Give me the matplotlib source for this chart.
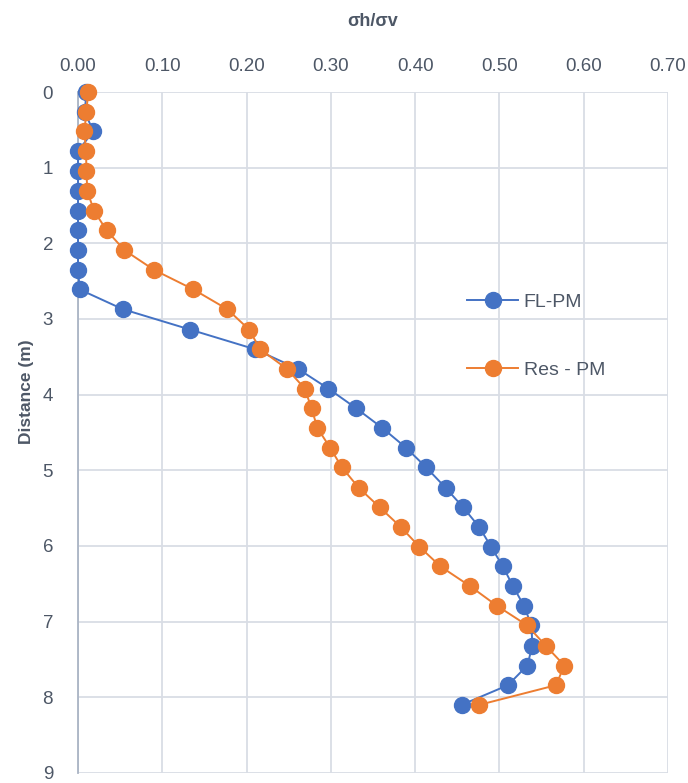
import matplotlib.pyplot as plt

# depth below surface (m)
depth = [0.00, 0.26, 0.52, 0.78, 1.05, 1.31, 1.57, 1.83, 2.09, 2.35, 2.61, 2.87,
         3.14, 3.40, 3.66, 3.92, 4.18, 4.44, 4.70, 4.96, 5.23, 5.49, 5.75, 6.01,
         6.27, 6.53, 6.79, 7.05, 7.32, 7.58, 7.84, 8.10]

fl_pm = [0.010, 0.008, 0.018, 0.000, 0.000, 0.000, 0.000, 0.000, 0.000, 0.000, 0.002, 0.053,
         0.133, 0.210, 0.261, 0.297, 0.330, 0.361, 0.389, 0.413, 0.436, 0.457, 0.476, 0.490,
         0.504, 0.516, 0.529, 0.538, 0.539, 0.533, 0.510, 0.455]

res_pm = [0.012, 0.010, 0.0075, 0.0095, 0.010, 0.011, 0.019, 0.034, 0.055, 0.090, 0.137, 0.177,
          0.203, 0.216, 0.248, 0.269, 0.277, 0.284, 0.299, 0.313, 0.333, 0.358, 0.383, 0.405,
          0.430, 0.465, 0.497, 0.533, 0.555, 0.577, 0.567, 0.476]

xticks = [0.0, 0.1, 0.2, 0.3, 0.4, 0.5, 0.6, 0.7]
yticks = list(range(10))

plt.rcParams['font.family'] = ['Liberation Sans Narrow', 'Liberation Sans', 'DejaVu Sans']
txt = '#4d5766'

fig = plt.figure(figsize=(6.88, 7.83), dpi=100)
ax = fig.add_axes([0.1134, 0.0128, 0.8576, 0.8697])

ax.plot(fl_pm, depth, color='#4472C4', lw=1.4, marker='o', ms=11.5,
        markeredgecolor='#4472C4', label='FL-PM', clip_on=False, zorder=3)
ax.plot(res_pm, depth, color='#ED7D31', lw=1.4, marker='o', ms=11.5,
        markeredgecolor='#ED7D31', label='Res - PM', clip_on=False, zorder=4)

ax.set_xlim(0, 0.7)
ax.set_ylim(9, 0)
ax.set_xticks(xticks)
ax.set_xticklabels(['%.2f' % v for v in xticks])
ax.set_yticks(yticks)
ax.xaxis.tick_top()
ax.tick_params(axis='both', length=0, labelsize=13.5, labelcolor=txt)
ax.tick_params(axis='x', pad=12)
ax.tick_params(axis='y', pad=18)
ax.grid(True, color='#d9dde5', lw=1.3)
ax.set_axisbelow(True)
for s in ['top', 'right', 'bottom']:
    ax.spines[s].set_visible(False)
ax.spines['left'].set_color('#aab4c4')
ax.spines['left'].set_linewidth(1.3)

fig.text(0.542, 0.972, 'σh/σv', ha='center', va='center', fontsize=13,
         fontweight='bold', color=txt)
fig.text(0.038, 0.5, 'Distance (m)', ha='center', va='center', rotation=90,
         fontsize=12.5, fontweight='bold', color=txt)

leg = ax.legend(loc='upper left', bbox_to_anchor=(0.63, 0.73), frameon=False,
                fontsize=14, labelspacing=2.6, handlelength=2.6, handletextpad=0.3)
for t in leg.get_texts():
    t.set_color(txt)

fig.savefig('out.png', dpi=100)
